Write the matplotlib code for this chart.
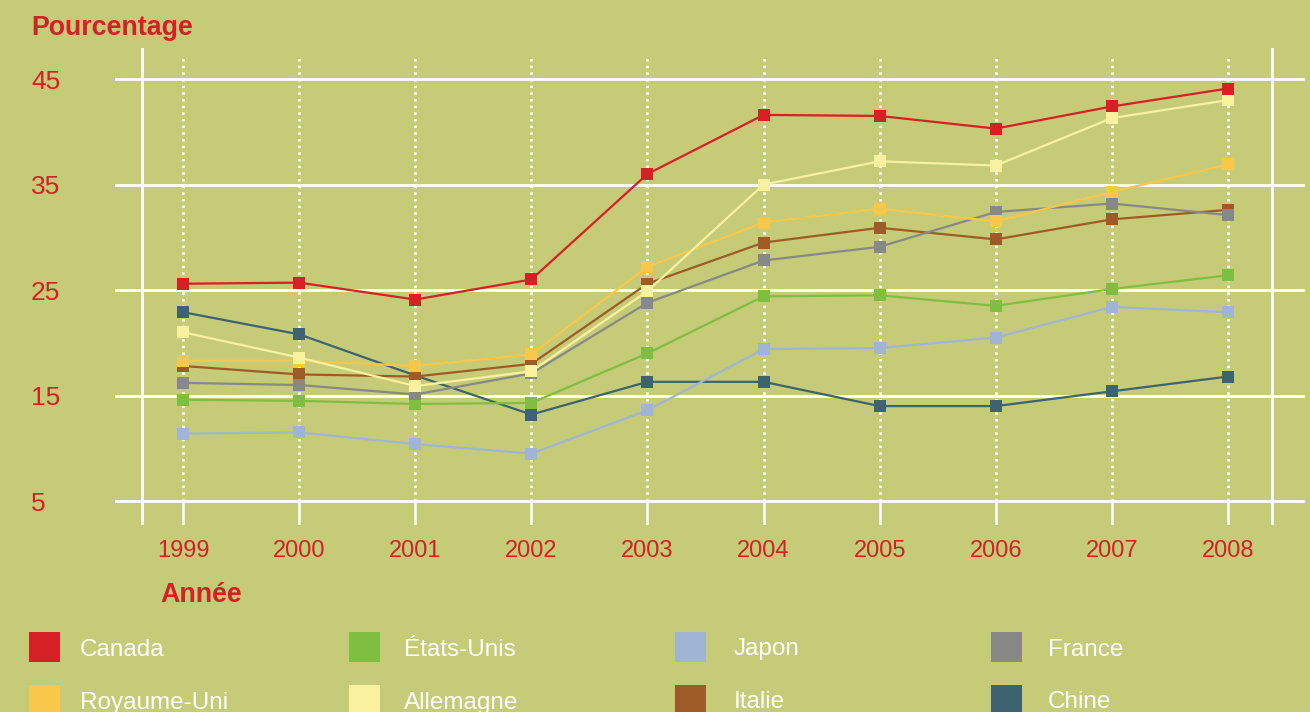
import matplotlib
matplotlib.use("Agg")
import matplotlib.pyplot as plt
from matplotlib.patches import Rectangle

plt.rcParams['font.family'] = ['Liberation Sans', 'DejaVu Sans']

years = [1999, 2000, 2001, 2002, 2003, 2004, 2005, 2006, 2007, 2008]
canada    = [25.6, 25.7, 24.1, 26.0, 36.0, 41.6, 41.5, 40.3, 42.4, 44.1]
etats_unis = [14.6, 14.5, 14.2, 14.3, 19.0, 24.4, 24.5, 23.5, 25.1, 26.4]
japon     = [11.4, 11.5, 10.4, 9.5, 13.6, 19.4, 19.5, 20.5, 23.4, 22.9]
france    = [16.2, 16.0, 15.1, 17.1, 23.8, 27.8, 29.1, 32.4, 33.2, 32.1]
royaume_uni = [18.3, 18.3, 17.8, 18.9, 27.2, 31.4, 32.7, 31.5, 34.3, 36.9]
allemagne = [21.0, 18.6, 15.9, 17.3, 24.9, 35.0, 37.2, 36.8, 41.3, 43.0]
italie    = [17.8, 17.0, 16.8, 18.0, 25.6, 29.5, 30.9, 29.8, 31.7, 32.6]
chine     = [22.9, 20.8, 16.9, 13.2, 16.3, 16.3, 14.0, 14.0, 15.4, 16.8]

names = ["Canada", "États-Unis", "Japon", "France",
         "Royaume-Uni", "Allemagne", "Italie", "Chine"]
series = [canada, etats_unis, japon, france, royaume_uni, allemagne, italie, chine]
colors = ["#D71F26", "#80BE41", "#A0B5D6", "#888888",
          "#F9C74A", "#F8F2A0", "#9E5B27", "#3D6370"]
yticks = [5, 15, 25, 35, 45]

BG = "#C6CB78"
RED = "#D71F26"
W, H = 1310, 712

fig = plt.figure(figsize=(W / 100, H / 100), dpi=100, facecolor=BG)
ax = fig.add_axes([115 / W, 1 - 525 / H, (1305 - 115) / W, (525 - 48) / H])
ax.set_facecolor(BG)
ax.set_xlim(1998.414, 2008.663)
ax.set_ylim(2.73, 47.94)
for s in ax.spines.values():
    s.set_visible(False)

ax.set_yticks(yticks)
ax.set_yticklabels([str(v) for v in yticks])
ax.set_xticks(years)
ax.set_xticklabels([str(y) for y in years])
ax.tick_params(axis='y', length=0, pad=60.5, labelsize=19, labelcolor=RED)
ax.tick_params(axis='x', length=0, pad=10.5, labelsize=17, labelcolor=RED)
for lab in ax.get_yticklabels():
    lab.set_horizontalalignment('left')

for v in yticks:
    ax.axhline(v, color='white', lw=2, zorder=1)
ax.axvline(1998.647, color='white', lw=2, zorder=1)
ax.axvline(2008.379, color='white', lw=2, zorder=1)
ax.vlines(years, 5, 47.27, colors='white', lw=2, linestyles=(0, (0.9, 1.5)), zorder=1)
ax.vlines(years, 2.73, 5, colors='white', lw=1.8, zorder=1)

order = [7, 2, 1, 6, 3, 4, 5, 0]
for z, i in enumerate(order):
    ax.plot(years, series[i], color=colors[i], lw=1.6, marker='s', ms=8.8,
            markeredgewidth=0, zorder=3 + z)

fig.text(31 / W, 1 - 35 / H, "Pourcentage", color=RED, fontsize=19.3,
         fontweight='bold', ha='left', va='baseline')
fig.text(160 / W, 1 - 602.5 / H, "Année", color=RED, fontsize=19.3,
         fontweight='bold', ha='left', va='baseline')

col_sq = [29, 349, 675, 991]
col_tx = [80, 404, 734, 1048]
row_top = [632, 685]
for k, (nm, c) in enumerate(zip(names, colors)):
    r, col = divmod(k, 4)
    top = row_top[r]
    fig.patches.append(Rectangle((col_sq[col] / W, 1 - (top + 30) / H), 31 / W, 30 / H,
                                 transform=fig.transFigure, color=c, lw=0))
    fig.text(col_tx[col] / W, 1 - (top + 23.5) / H, nm, color='white', fontsize=17.5,
             ha='left', va='baseline')

fig.savefig("out.png", dpi=100, facecolor=BG)
